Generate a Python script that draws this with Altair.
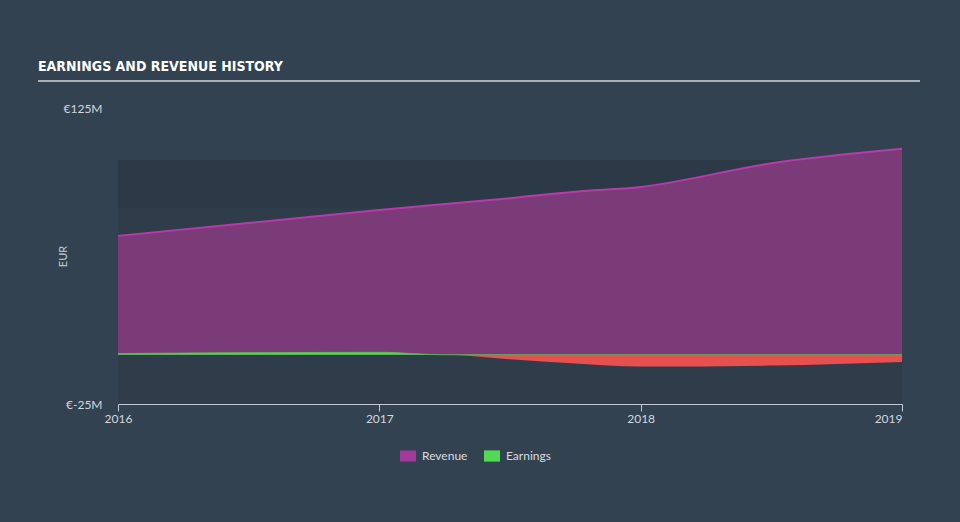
import altair as alt
import pandas as pd

# ---- data ----
rev_years = [2016.0, 2017.0, 2017.5, 2017.75, 2018.0, 2018.5, 2019.0]
revenue = [60.2, 73.3, 79.3, 82.6, 85.0, 97.0, 104.3]

earn_years = [2016.0, 2016.5, 2017.0, 2017.25, 2017.5, 2017.75, 2018.0, 2018.5, 2019.0]
earnings = [0.6, 1.0, 1.2, 0.0, -2.3, -4.5, -6.0, -5.5, -3.7]

x_ticks = [2016, 2017, 2018, 2019]
y_ticks = [-25, 125]
series_names = ["Revenue", "Earnings"]

rev_df = pd.DataFrame({"year": rev_years, "value": revenue, "series": "Revenue"})
earn_df = pd.DataFrame({
    "year": earn_years,
    "pos": [max(v, 0) for v in earnings],
    "neg": [min(v, 0) for v in earnings],
    "series": "Earnings",
})

FONT = "Lato"
TITLE_FONT = "'DejaVu Sans Condensed', 'Liberation Sans Narrow', 'Roboto Condensed', sans-serif"
W, H = 784, 296

x_enc = alt.X(
    "year:Q",
    scale=alt.Scale(domain=[2016, 2019], nice=False, zero=False),
    axis=alt.Axis(
        values=x_ticks, format="d", title=None, grid=False,
        domainColor="#c3cbd6", tickColor="#c3cbd6", tickSize=7,
        labelColor="#d4d8dd", labelFont=FONT, labelFontSize=12, labelPadding=2,
        labelFlush=False,
        labelAlign={"condition": {"test": "datum.value >= 2019", "value": "right"}, "value": "center"},
    ),
)
y_scale = alt.Scale(domain=[-25, 125], nice=False, zero=False)
y_axis = alt.Axis(
    values=y_ticks, labelExpr="'€' + datum.value + 'M'", grid=False,
    domain=False, ticks=False, labelPadding=16,
    labelColor="#d4d8dd", labelFont=FONT, labelFontSize=12,
    title="EUR", titleColor="#c8ccd2", titleFont=FONT, titleFontSize=11,
    titleFontWeight="normal", titleX=-55, titleY=148, titleAngle=270,
    titleAlign="center", titleBaseline="middle",
)

one = alt.Data(values=[{"k": 1}])

plot_bg = alt.Chart(one).mark_rect(color="#2f3d4b").encode(
    x=alt.value(0), x2=alt.value(W), y=alt.value(52), y2=alt.value(H)
)
band = alt.Chart(one).mark_rect(color="#2c3946").encode(
    x=alt.value(0), x2=alt.value(W), y=alt.value(52), y2=alt.value(100)
)
underline = alt.Chart(one).mark_rule(color="#aab1b9", strokeWidth=2).encode(
    x=alt.value(-80), x2=alt.value(802), y=alt.value(-27)
)

rev_area = alt.Chart(rev_df).mark_area(color="#7b3a78", interpolate="monotone").encode(
    x=x_enc, y=alt.Y("value:Q", scale=y_scale, axis=y_axis), y2=alt.datum(0)
)
rev_line = alt.Chart(rev_df).mark_line(color="#b63caa", strokeWidth=2, interpolate="monotone").encode(
    x="year:Q", y="value:Q"
)

earn_pos = alt.Chart(earn_df).mark_area(interpolate="monotone", opacity=1).encode(
    x="year:Q", y="pos:Q", y2=alt.datum(0),
    color=alt.Color(
        "series:N",
        scale=alt.Scale(domain=series_names, range=["#a23a9c", "#52db52"]),
        legend=alt.Legend(
            title=None, orient="none", legendX=282, legendY=340, direction="horizontal",
            symbolType="M-1,-0.7L1,-0.7L1,0.7L-1,0.7Z", symbolSize=256, symbolStrokeWidth=0,
            symbolOpacity=1, labelFont=FONT, labelFontSize=12, labelColor="#d8dce0",
            labelOffset=6, columnPadding=16, padding=0,
        ),
    ),
)
earn_neg = alt.Chart(earn_df).mark_area(color="#e8504f", interpolate="monotone").encode(
    x="year:Q", y="neg:Q", y2=alt.datum(0)
)
earn_line = alt.Chart(earn_df).mark_line(color="#5fbf55", strokeWidth=1.2, opacity=0.7,
                                         interpolate="monotone").encode(
    x="year:Q", y="pos:Q"
)

chart = alt.layer(
    plot_bg, band, underline, rev_area, rev_line, earn_neg, earn_pos, earn_line
).properties(
    width=W, height=H,
    background="#334250",
    padding={"left": 118, "top": 108, "right": 58, "bottom": 118},
    autosize=alt.AutoSizeParams(type="none"),
    title=alt.TitleParams(
        "EARNINGS AND REVENUE HISTORY", anchor="start", frame="group", dx=-80, offset=6,
        font=TITLE_FONT, fontSize=14, fontWeight="bold", color="#ffffff",
    ),
).configure_view(stroke=None)

chart.save("out.html", embed_options={"renderer": "svg", "actions": False})
